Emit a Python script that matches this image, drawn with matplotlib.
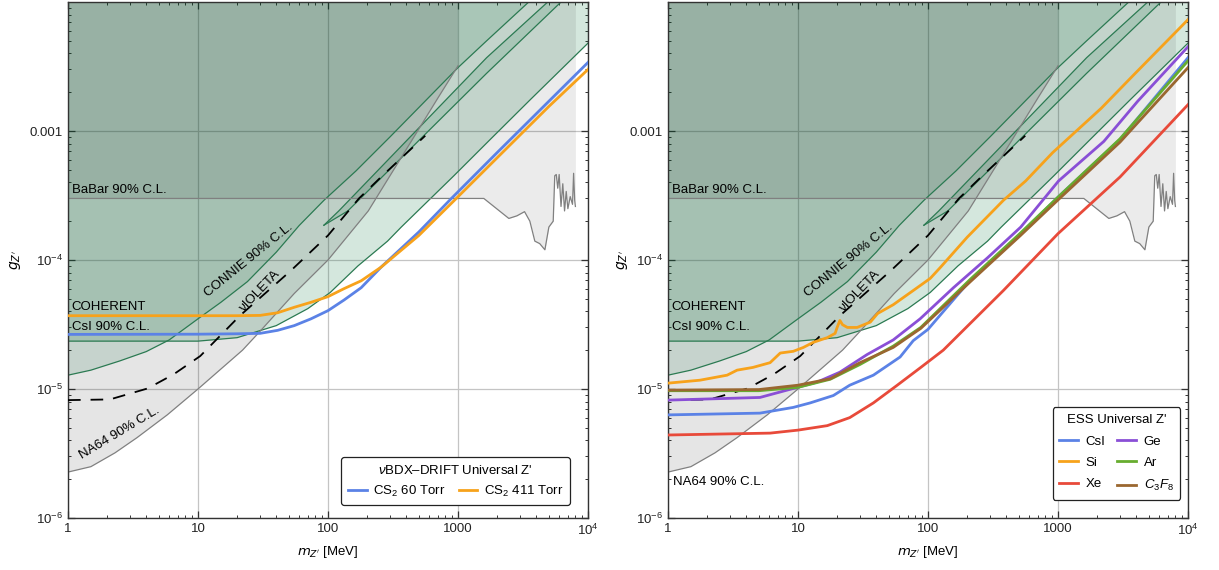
import matplotlib
matplotlib.use("Agg")
import matplotlib.pyplot as plt
from matplotlib.ticker import LogLocator, NullFormatter

plt.rcParams['font.family'] = ['Liberation Sans', 'DejaVu Sans']
plt.rcParams['mathtext.fontset'] = 'custom'
plt.rcParams['mathtext.rm'] = 'Liberation Sans'
plt.rcParams['mathtext.it'] = 'Liberation Sans:italic'
plt.rcParams['mathtext.bf'] = 'Liberation Sans:bold'

# ---- exclusion regions (same on both panels) ----
na64_m = [1, 1.5, 2.3, 3.4, 5.8, 10, 22, 30, 55, 100, 204, 400, 700, 1000]
na64_g = [2.27e-6, 2.5e-6, 3.2e-6, 4.2e-6, 6.3e-6, 1.0e-5, 2.0e-5, 2.8e-5, 5.5e-5, 1.0e-4, 2.4e-4, 7.2e-4, 1.8e-3, 3.2e-3]

babar_m = [1, 1580, 2460, 2840, 3250, 3570, 3900, 4250, 4660, 5000, 5400, 5550, 5700, 5850,
           6000, 6200, 6400, 6600, 6800, 7000, 7300, 7600, 7750, 7900, 8000]
babar_g = [3e-4, 3e-4, 2.1e-4, 2.2e-4, 2.37e-4, 2.0e-4, 1.4e-4, 1.34e-4, 1.2e-4, 1.8e-4, 2.0e-4, 4.5e-4,
           4.6e-4, 3.6e-4, 4.6e-4, 2.6e-4, 3.9e-4, 2.4e-4, 3.4e-4, 2.5e-4, 3.1e-4, 2.7e-4, 4.7e-4,
           2.9e-4, 2.6e-4]

connie_m = [1, 1.5, 2.5, 4, 6, 10, 15, 24, 40, 60, 93, 164, 300, 1000, 1660, 3500, 7000]
connie_g = [1.28e-5, 1.4e-5, 1.65e-5, 1.95e-5, 2.4e-5, 3.5e-5, 4.7e-5, 6.8e-5, 1.15e-4, 1.85e-4,
            2.9e-4, 4.9e-4, 9e-4, 3.1e-3, 5e-3, 1e-2, 2e-2]

tongue_up_m = [93, 121, 1660, 4900, 8000]
tongue_up_g = [1.86e-4, 2.4e-4, 3.7e-3, 1e-2, 1.6e-2]
tongue_lo_m = [93, 142, 1660, 6200, 9000]
tongue_lo_g = [1.86e-4, 2.4e-4, 2.8e-3, 1e-2, 1.5e-2]

coh_m = [1, 10, 20, 40, 70, 104, 170, 287, 366, 930, 1750, 3600, 10000]
coh_g = [2.35e-5, 2.35e-5, 2.5e-5, 3.1e-5, 4.2e-5, 5.6e-5, 9e-5, 1.4e-4, 1.8e-4, 4.5e-4, 8.5e-4, 1.75e-3, 4.8e-3]

violeta_m = [1, 2.1, 4.1, 6.5, 10.4, 21, 52, 100, 173, 256, 541, 560]
violeta_g = [8.2e-6, 8.3e-6, 1.01e-5, 1.3e-5, 1.8e-5, 3.7e-5, 8.3e-5, 1.55e-4, 3e-4, 4.4e-4, 8.9e-4, 9.2e-4]

# ---- left panel: vBDX-DRIFT ----
cs60_m = [1, 10, 20, 30, 41, 55, 74, 100, 133, 180, 256, 500, 890, 2000, 5000, 10000]
cs60_g = [2.65e-5, 2.66e-5, 2.68e-5, 2.7e-5, 2.85e-5, 3.1e-5, 3.5e-5, 4.05e-5, 4.9e-5, 6.1e-5, 8.8e-5,
          1.65e-4, 3.0e-4, 6.8e-4, 1.7e-3, 3.4e-3]
cs411_m = [1, 10, 20, 30, 41, 55, 74, 100, 133, 180, 256, 500, 970, 2000, 5000, 10000]
cs411_g = [3.7e-5, 3.7e-5, 3.7e-5, 3.72e-5, 3.9e-5, 4.3e-5, 4.7e-5, 5.2e-5, 6.0e-5, 6.9e-5, 8.8e-5,
           1.55e-4, 3.0e-4, 6.2e-4, 1.55e-3, 3.0e-3]

# ---- right panel: ESS ----
csi_m = [1, 5.1, 9.2, 12.4, 18.7, 25, 38, 61, 77, 100, 212, 515, 1010, 3000, 10000]
csi_g = [6.3e-6, 6.5e-6, 7.2e-6, 7.8e-6, 8.9e-6, 1.07e-5, 1.28e-5, 1.77e-5, 2.37e-5, 2.9e-5, 7.0e-5,
         1.6e-4, 3.1e-4, 8.6e-4, 3.7e-3]
si_m = [1, 1.76, 2.85, 3.4, 4.5, 6.1, 7.3, 9.2, 11, 13.1, 16.8, 19.3, 20, 21, 22, 24, 28.5, 36, 41, 54,
        77, 104, 125, 200, 380, 564, 910, 2150, 3860, 10000]
si_g = [1.11e-5, 1.17e-5, 1.28e-5, 1.4e-5, 1.47e-5, 1.6e-5, 1.9e-5, 1.96e-5, 2.1e-5, 2.3e-5, 2.5e-5,
        2.7e-5, 3.0e-5, 3.4e-5, 3.15e-5, 3.0e-5, 3.0e-5, 3.3e-5, 3.85e-5, 4.5e-5, 5.8e-5, 7.2e-5,
        8.8e-5, 1.5e-4, 2.9e-4, 4.1e-4, 6.8e-4, 1.5e-3, 2.75e-3, 7.3e-3]
xe_m = [1, 6.1, 10, 16.8, 25, 38, 58, 88, 131, 380, 1000, 3000, 10000]
xe_g = [4.4e-6, 4.55e-6, 4.8e-6, 5.2e-6, 6.0e-6, 7.8e-6, 1.07e-5, 1.47e-5, 2.0e-5, 5.8e-5, 1.6e-4,
        4.4e-4, 1.6e-3]
ge_m = [1, 5.1, 9.2, 14, 21, 34, 54, 87, 157, 287, 517, 1010, 2250, 4100, 10000]
ge_g = [8.2e-6, 8.6e-6, 1.01e-5, 1.13e-5, 1.35e-5, 1.85e-5, 2.4e-5, 3.5e-5, 6.1e-5, 1.04e-4, 1.8e-4,
        4.1e-4, 8.3e-4, 1.7e-3, 4.5e-3]
ar_m = [1, 5, 10, 17.7, 30, 54, 88, 212, 515, 1010, 3000, 10000]
ar_g = [9.7e-6, 9.7e-6, 1.03e-5, 1.19e-5, 1.55e-5, 2.15e-5, 3.0e-5, 7.1e-5, 1.62e-4, 3.1e-4, 8.7e-4, 3.5e-3]
c3f8_m = [1, 5, 10, 17.7, 30, 54, 88, 212, 515, 1010, 3000, 10000]
c3f8_g = [9.8e-6, 9.9e-6, 1.07e-5, 1.2e-5, 1.6e-5, 2.1e-5, 2.95e-5, 6.8e-5, 1.55e-4, 2.95e-4, 8.2e-4, 3.1e-3]

BLUE = '#5b82e6'
ORANGE = '#f7a21b'
RED = '#e84a3a'
PURPLE = '#8a4fd6'
GREEN = '#67ad2f'
BROWN = '#9a6730'
EDGE_G = '#2b7a52'
FILL_G = '#137a47'

fig = plt.figure(figsize=(12.19, 5.70), dpi=100)
axL = fig.add_axes([68 / 1219, 52 / 570, 520 / 1219, 516 / 570])
axR = fig.add_axes([668 / 1219, 52 / 570, 520 / 1219, 516 / 570])

for ax in (axL, axR):
    ax.set_xscale('log')
    ax.set_yscale('log')
    ax.set_xlim(1, 1e4)
    ax.set_ylim(1e-6, 1e-2)
    ax.set_axisbelow(True)
    ax.grid(True, which='major', color='#c4c4c4', lw=0.9)

    # shaded regions
    ax.fill_between(coh_m, coh_g, 1, color=FILL_G, alpha=0.18, lw=0, zorder=1)
    ax.fill_between(connie_m, connie_g, 1, color=FILL_G, alpha=0.14, lw=0, zorder=1)
    ax.fill(tongue_up_m + tongue_lo_m[::-1], tongue_up_g + tongue_lo_g[::-1],
            color=FILL_G, alpha=0.14, lw=0, zorder=1)
    ax.fill_between(na64_m, na64_g, 1, color='black', alpha=0.1, lw=0, zorder=1)
    ax.fill_between(babar_m, babar_g, 1, color='black', alpha=0.08, lw=0, zorder=1)

    # region edges
    ax.plot(coh_m, coh_g, color=EDGE_G, lw=0.9, zorder=2)
    ax.plot(connie_m, connie_g, color=EDGE_G, lw=0.9, zorder=2)
    ax.plot(tongue_up_m, tongue_up_g, color=EDGE_G, lw=0.9, zorder=2)
    ax.plot(tongue_lo_m, tongue_lo_g, color=EDGE_G, lw=0.9, zorder=2)
    ax.plot(na64_m, na64_g, color='#808080', lw=0.9, zorder=2)
    ax.plot(babar_m, babar_g, color='#808080', lw=0.9, zorder=2)
    ax.plot(violeta_m, violeta_g, color='black', lw=1.3, ls=(0, (7, 5.5)), zorder=3)

    ax.text(1.07, 3.15e-4, 'BaBar 90% C.L.', fontsize=9.5, va='bottom', ha='left', zorder=5)
    ax.text(1.07, 4.3e-5, 'COHERENT', fontsize=9.5, va='center', ha='left', zorder=5)
    ax.text(1.07, 3.0e-5, 'CsI 90% C.L.', fontsize=9.5, va='center', ha='left', zorder=5)
    ax.text(24.5, 9.9e-5, 'CONNIE 90% C.L.', fontsize=9.5, rotation=39,
            ha='center', va='center', rotation_mode='anchor', zorder=5)
    ax.text(30, 5.8e-5, 'νIOLETA', fontsize=9.5, rotation=46,
            ha='center', va='center', rotation_mode='anchor', zorder=5)

    ax.set_xticks([1, 10, 100, 1000, 1e4], labels=['1', '10', '100', '1000', '$10^4$'])
    ax.set_yticks([1e-6, 1e-5, 1e-4, 1e-3], labels=['$10^{-6}$', '$10^{-5}$', '$10^{-4}$', '0.001'])
    ax.xaxis.set_minor_locator(LogLocator(base=10, subs=range(2, 10), numticks=20))
    ax.yaxis.set_minor_locator(LogLocator(base=10, subs=range(2, 10), numticks=20))
    ax.xaxis.set_minor_formatter(NullFormatter())
    ax.yaxis.set_minor_formatter(NullFormatter())
    ax.tick_params(which='both', direction='in', top=True, right=True, labelsize=9.5,
                   color='#333333', labelcolor='#222222')
    ax.tick_params(which='major', length=5, width=0.9)
    ax.tick_params(which='minor', length=2.5, width=0.7)
    for s in ax.spines.values():
        s.set_color('#333333')
        s.set_linewidth(1.0)

    ax.set_xlabel("$m_{Z'}$ [MeV]", fontsize=9.5, math_fontfamily='dejavusans')
    ax.set_ylabel("$g_{Z'}$", fontsize=10, math_fontfamily='dejavusans')

axL.yaxis.set_label_coords(-0.086, 0.5)
axR.yaxis.set_label_coords(-0.073, 0.5)
axL.xaxis.set_label_coords(0.5, -0.050)
axR.xaxis.set_label_coords(0.5, -0.050)

axL.text(2.48, 4.6e-6, 'NA64 90% C.L.', fontsize=9.5, rotation=31,
         ha='center', va='center', rotation_mode='anchor', zorder=5)
axR.text(1.1, 1.9e-6, 'NA64 90% C.L.', fontsize=9.5, ha='left', va='center', zorder=5)

# left panel curves
axL.plot(cs60_m, cs60_g, color=BLUE, lw=2, zorder=4, label='CS$_2$ 60 Torr')
axL.plot(cs411_m, cs411_g, color=ORANGE, lw=2, zorder=4, label='CS$_2$ 411 Torr')
legL = axL.legend(title="$\\nu$BDX–DRIFT Universal Z'", loc='lower right',
                  bbox_to_anchor=(0.965, 0.025), borderaxespad=0, ncol=2, fontsize=9.5,
                  title_fontsize=9.5, handlelength=1.4, columnspacing=1.0, handletextpad=0.5,
                  framealpha=1, edgecolor='#222222', fancybox=True, borderpad=0.5)
legL.get_frame().set_linewidth(0.9)
legL.set_zorder(10)

# right panel curves
axR.plot(csi_m, csi_g, color=BLUE, lw=2, zorder=4, label='CsI')
axR.plot(si_m, si_g, color=ORANGE, lw=2, zorder=4, label='Si')
axR.plot(xe_m, xe_g, color=RED, lw=2, zorder=4, label='Xe')
axR.plot(ge_m, ge_g, color=PURPLE, lw=2, zorder=4, label='Ge')
axR.plot(ar_m, ar_g, color=GREEN, lw=2, zorder=4, label='Ar')
axR.plot(c3f8_m, c3f8_g, color=BROWN, lw=2, zorder=4, label='$C_3F_8$')
legR = axR.legend(title="ESS Universal Z'", loc='lower right', bbox_to_anchor=(0.985, 0.035),
                  borderaxespad=0, ncol=2, fontsize=9.5, title_fontsize=9.5, handlelength=1.4,
                  columnspacing=0.9, handletextpad=0.6, labelspacing=0.7,
                  framealpha=1, edgecolor='#222222', fancybox=True, borderpad=0.5)
legR.get_frame().set_linewidth(0.9)
legR.set_zorder(10)

fig.savefig('out.png', dpi=100)
